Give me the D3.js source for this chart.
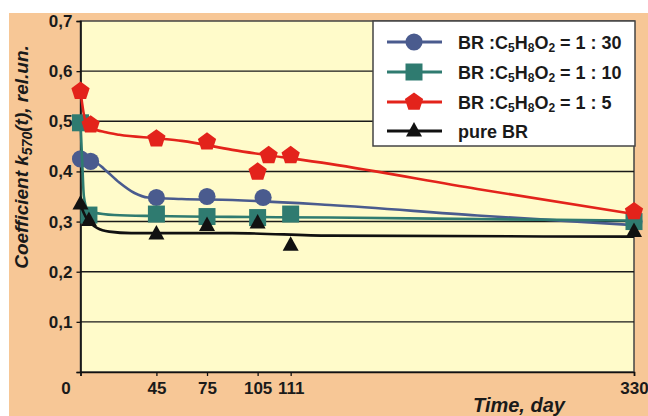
<!DOCTYPE html>
<html>
<head>
<meta charset="utf-8">
<script src="https://cdn.jsdelivr.net/npm/d3@7"></script>
<style>
  body { margin: 0; background: #fff; }
  svg { display: block; font-family: Arial, "Liberation Sans", sans-serif; }
</style>
</head>
<body>
<svg id="chart" width="648" height="416"></svg>
<script>
// tick labels
const xTicks = [0, 45, 75, 105, 111, 330];
const yTicks = [0, 0.1, 0.2, 0.3, 0.4, 0.5, 0.6, 0.7];

// legend text
const ratios = ["1 : 30", "1 : 10", "1 : 5"];
const pureLabel = "pure BR";

// measured points (days, k570)
const blueDays = [0, 6, 45, 75, 106, 330];
const blueVals = [0.425, 0.42, 0.348, 0.35, 0.348, 0.30];
const tealDays = [0, 5, 45, 75, 105, 111, 330];
const tealVals = [0.497, 0.313, 0.315, 0.31, 0.308, 0.315, 0.30];
const redDays = [0, 6, 45, 75, 105, 107, 111, 330];
const redVals = [0.56, 0.493, 0.465, 0.459, 0.399, 0.432, 0.432, 0.32];
const blackDays = [0, 5, 45, 75, 105, 111, 330];
const blackVals = [0.335, 0.302, 0.275, 0.292, 0.297, 0.253, 0.28];

// smoothed trend curves
const blueFitDays = [0, 8, 14, 23, 32, 40, 60, 90, 136, 230, 330];
const blueFitVals = [0.425, 0.42, 0.405, 0.378, 0.357, 0.348, 0.345, 0.343, 0.333, 0.312, 0.293];
const tealFitDays = [0, 1, 2, 4, 8, 20, 45, 105, 136, 230, 330];
const tealFitVals = [0.497, 0.42, 0.35, 0.325, 0.318, 0.313, 0.311, 0.309, 0.308, 0.305, 0.302];
const redFitDays = [0, 3, 7, 15, 23, 45, 60, 90, 136, 230, 330];
const redFitVals = [0.56, 0.50, 0.487, 0.478, 0.473, 0.466, 0.461, 0.443, 0.415, 0.365, 0.315];
const blackFitDays = [0, 3, 6, 10, 17, 30, 90, 136, 330];
const blackFitVals = [0.333, 0.31, 0.297, 0.287, 0.28, 0.277, 0.277, 0.272, 0.27];

const svg = d3.select('#chart');
const plotLeft = 80.5, plotTop = 21, plotRight = 634, plotBottom = 372;
const W = plotRight - plotLeft, H = plotBottom - plotTop;

// peach background
svg.append('rect').attr('x', 9).attr('y', 13).attr('width', 639).attr('height', 403).attr('fill', '#f7c796');

const g = svg.append('g').attr('transform', `translate(${plotLeft},${plotTop})`);

// x axis is not evenly spaced after day 105 in the original
const xScale = d3.scaleLinear()
    .domain([0, 105, 111, 330])
    .range([0, W * 0.320, W * 0.3797, W]);
const yScale = d3.scaleLinear().domain([0, 0.7]).range([H, 0]);

g.append('rect').attr('width', W).attr('height', H).attr('fill', '#fffbca')
    .attr('stroke', '#444').attr('stroke-width', 1.5);

// grid
g.selectAll('.grid').data(yTicks.filter(d => d > 0 && d < 0.7)).join('line')
    .attr('x1', 0).attr('x2', W)
    .attr('y1', d => yScale(d)).attr('y2', d => yScale(d))
    .attr('stroke', '#1a1a1a').attr('stroke-width', 1.4);

// axes
const yAxis = g.append('g')
    .call(d3.axisLeft(yScale).tickValues(yTicks).tickSize(4).tickPadding(4)
        .tickFormat(d => d === 0 ? '' : d3.format('.1f')(d).replace('.', ',')));
const xAxis = g.append('g').attr('transform', `translate(0,${H})`)
    .call(d3.axisBottom(xScale).tickValues(xTicks).tickSize(4).tickPadding(6));
[yAxis, xAxis].forEach(a => {
  a.select('.domain').attr('stroke', '#111').attr('stroke-width', 1.6);
  a.selectAll('.tick line').attr('stroke', '#111').attr('stroke-width', 1.3);
  a.selectAll('.tick text').attr('fill', '#1a1a1a')
      .style('font-size', '17px').style('font-weight', 'bold');
});
xAxis.selectAll('.tick text').filter(d => d === 0).attr('dx', -15);

// marker shapes
function polygon(n, r, rot) {
  const pts = d3.range(n).map(i => {
    const a = rot + i * 2 * Math.PI / n;
    return [r * Math.cos(a), r * Math.sin(a)];
  });
  return 'M' + pts.map(p => p.join(',')).join('L') + 'Z';
}
const shapes = {
  circle: d3.symbol(d3.symbolCircle, 230)(),
  square: 'M-8.5,-8.5H8.5V8.5H-8.5Z',
  pentagon: polygon(5, 9.6, -Math.PI / 2),
  triangle: 'M0,-9L8,5.5L-8,5.5Z'
};

const series = [
  { color: '#4a5b8e', shape: 'circle', days: blueDays, vals: blueVals, fd: blueFitDays, fv: blueFitVals },
  { color: '#2f7b70', shape: 'square', days: tealDays, vals: tealVals, fd: tealFitDays, fv: tealFitVals },
  { color: '#e3231b', shape: 'pentagon', days: redDays, vals: redVals, fd: redFitDays, fv: redFitVals },
  { color: '#111111', shape: 'triangle', days: blackDays, vals: blackVals, fd: blackFitDays, fv: blackFitVals }
];

const line = d3.line().x(d => xScale(d[0])).y(d => yScale(d[1])).curve(d3.curveMonotoneX);

series.forEach(s => {
  g.append('path').datum(d3.zip(s.fd, s.fv))
      .attr('d', line).attr('fill', 'none')
      .attr('stroke', s.color).attr('stroke-width', 2.6);
  g.selectAll(null).data(d3.zip(s.days, s.vals)).join('path')
      .attr('d', shapes[s.shape])
      .attr('transform', d => `translate(${xScale(d[0])},${yScale(d[1])})`)
      .attr('fill', s.color);
});

// legend
const lg = svg.append('g');
lg.append('rect').attr('x', 373).attr('y', 21).attr('width', 262).attr('height', 125)
    .attr('fill', '#ffffff').attr('stroke', '#444').attr('stroke-width', 1.5);
const rowY = [42, 72, 102, 131];
series.forEach((s, i) => {
  const y = rowY[i];
  lg.append('line').attr('x1', 387).attr('x2', 442).attr('y1', y).attr('y2', y)
      .attr('stroke', s.color).attr('stroke-width', 3);
  lg.append('path').attr('d', shapes[s.shape])
      .attr('transform', `translate(414,${y})`).attr('fill', s.color);
  const t = lg.append('text').attr('x', 458).attr('y', y + 6.5)
      .attr('fill', '#1a1a1a').style('font-size', '18px').style('font-weight', 'bold');
  if (i < 3) {
    const parts = [['BR :C', 0], ['5', 1], ['H', 0], ['8', 1], ['O', 0], ['2', 1], [' = ' + ratios[i], 0]];
    parts.forEach((p, k) => {
      const ts = t.append('tspan').text(p[0]);
      if (p[1]) ts.style('font-size', '12px').attr('dy', 3);
      else if (k > 0) ts.attr('dy', -3);
    });
  } else {
    t.text(pureLabel);
  }
});

// axis titles
const yt = svg.append('text')
    .attr('transform', 'translate(28,157) rotate(-90)')
    .attr('text-anchor', 'middle').attr('fill', '#1a1a1a')
    .style('font-size', '19px').style('font-weight', 'bold').style('font-style', 'italic');
yt.append('tspan').text('Coefficient k');
yt.append('tspan').text('570').attr('dy', 4).style('font-size', '14px');
yt.append('tspan').text('(t), rel.un.').attr('dy', -4);

svg.append('text').attr('x', 519).attr('y', 412).attr('text-anchor', 'middle')
    .attr('fill', '#1a1a1a').style('font-size', '20px')
    .style('font-weight', 'bold').style('font-style', 'italic')
    .text('Time, day');
</script>
</body>
</html>
